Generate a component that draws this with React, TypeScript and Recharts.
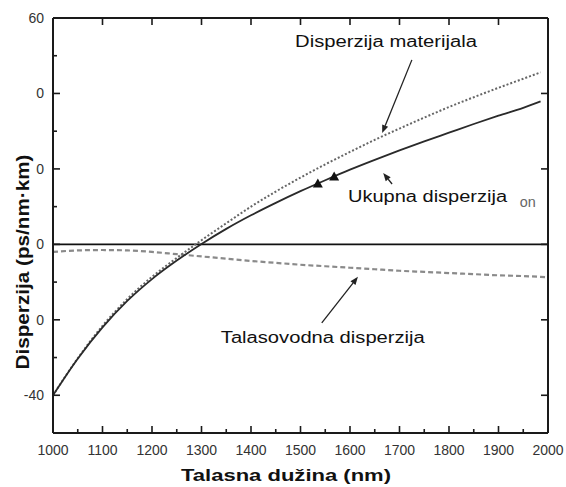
import React from 'react';
import {
  ComposedChart,
  Line,
  XAxis,
  YAxis,
  ReferenceLine,
  ReferenceDot,
  Scatter,
} from 'recharts';

// ---- data ----
const wavelengths = [1000, 1050, 1100, 1150, 1200, 1250, 1300, 1350, 1400, 1450, 1500, 1550, 1600, 1650, 1700, 1750, 1800, 1850, 1900, 1950, 1985, 2000];
const totalDispersion = [-40, -30.3, -22.0, -15.0, -9.2, -4.3, 0.1, 4.1, 7.7, 11.0, 14.1, 17.0, 19.8, 22.4, 24.9, 27.3, 29.6, 31.9, 34.1, 36.2, 37.9, null];
const materialDispersion = [-40, -30.2, -21.6, -14.5, -8.6, -3.6, 1.1, 5.6, 10.0, 14.0, 17.7, 21.2, 24.5, 27.7, 30.7, 33.6, 36.4, 39.0, 41.5, 43.9, 45.6, null];
const waveguideDispersion = [-2.0, -1.6, -1.5, -1.6, -2.0, -2.6, -3.2, -3.8, -4.4, -4.9, -5.4, -5.8, -6.2, -6.6, -7.0, -7.3, -7.6, -7.9, -8.2, -8.4, -8.6, -8.7];

const markerWavelengths = [1535, 1568];
const markerDispersion = [16.1, 18.0];

const xMajorTicks = [1000, 1100, 1200, 1300, 1400, 1500, 1600, 1700, 1800, 1900, 2000];
const xMinorTicks = [1050, 1150, 1250, 1350, 1450, 1550, 1650, 1750, 1850, 1950];
const yMajorTicks = [-40, -20, 0, 20, 40, 60];
const yTickLabels = ['-40', '0', '0', '0', '0', '60'];
const yMinorTicks = [-30, -10, 10, 30, 50];

const annotationTexts = ['Disperzija materijala', 'Ukupna disperzija', 'on', 'Talasovodna disperzija'];
const annotationX = [1489, 1596, 1943, 1339];
const annotationY = [52.3, 11.2, 9.9, -26.1];

const arrowFromX = [1725, 1685, 1543];
const arrowFromY = [48.9, 16.0, -20.8];
const arrowToX = [1665, 1667, 1616];
const arrowToY = [29.5, 18.9, -8.6];

const xTitle = 'Talasna dužina (nm)';
const yTitle = 'Disperzija (ps/nm·km)';

// ---- styles ----
const W = 566;
const H = 487;
const FONT = '"Liberation Sans", Arial, Helvetica, sans-serif';
const annotationStyle = [
  { len: 182, fill: '#111', size: 16 },
  { len: 159, fill: '#111', size: 16 },
  { len: 16, fill: '#666', size: 15 },
  { len: 204, fill: '#111', size: 16 },
];

const arrowShape = (p: any) => {
  const x1 = Number(p.x1), y1 = Number(p.y1), x2 = Number(p.x2), y2 = Number(p.y2);
  const dx = x2 - x1, dy = y2 - y1;
  const len = Math.hypot(dx, dy) || 1;
  const ux = dx / len, uy = dy / len;
  const hl = 8, hw = 3.2;
  const bx = x2 - ux * hl, by = y2 - uy * hl;
  return (
    <g>
      <line x1={x1} y1={y1} x2={bx} y2={by} stroke="#222" strokeWidth={1.3} />
      <polygon
        points={`${x2},${y2} ${bx - uy * hw},${by + ux * hw} ${bx + uy * hw},${by - ux * hw}`}
        fill="#222"
      />
    </g>
  );
};

const triangleShape = (p: any) => {
  const { cx, cy } = p;
  return <polygon points={`${cx},${cy - 5} ${cx + 5},${cy + 4} ${cx - 5},${cy + 4}`} fill="#111" />;
};

export default function App() {
  const data = wavelengths.map((w, i) => ({
    w,
    total: totalDispersion[i],
    material: materialDispersion[i],
    waveguide: waveguideDispersion[i],
  }));
  const markers = markerWavelengths.map((w, i) => ({ w, d: markerDispersion[i] }));
  const yLabel = (v: number) => {
    const i = yMajorTicks.indexOf(v);
    return i >= 0 ? yTickLabels[i] : '';
  };
  const axisLine = { stroke: '#1a1a1a', strokeWidth: 2 };
  const tickLine = { stroke: '#1a1a1a', strokeWidth: 1.6 };
  const tickText = { fontSize: 14, fill: '#333', fontFamily: FONT };

  return (
    <div style={{ position: 'absolute', left: 0, top: 0, width: W, height: H, background: '#fff', fontFamily: FONT }}>
      <ComposedChart width={W} height={H} data={data} margin={{ top: 17, right: 17, bottom: 52, left: 51 }}>
        <XAxis xAxisId="b" dataKey="w" type="number" domain={[1000, 2000]} ticks={xMajorTicks} interval={0}
          orientation="bottom" height={1} tickSize={-7} tickMargin={19} axisLine={axisLine} tickLine={tickLine}
          tick={tickText} allowDataOverflow />
        <XAxis xAxisId="bm" dataKey="w" type="number" domain={[1000, 2000]} ticks={xMinorTicks} interval={0}
          orientation="bottom" height={1} tickSize={-5} axisLine={false} tickLine={tickLine}
          tickFormatter={() => ''} allowDataOverflow />
        <XAxis xAxisId="t" dataKey="w" type="number" domain={[1000, 2000]} ticks={xMajorTicks} interval={0}
          orientation="top" height={1} tickSize={-7} axisLine={axisLine} tickLine={tickLine}
          tickFormatter={() => ''} allowDataOverflow />
        <YAxis yAxisId="l" type="number" domain={[-50, 60]} ticks={yMajorTicks} interval={0}
          orientation="left" width={1} tickSize={-7} tickMargin={16} axisLine={axisLine} tickLine={tickLine}
          tick={tickText} tickFormatter={yLabel} allowDataOverflow />
        <YAxis yAxisId="lm" type="number" domain={[-50, 60]} ticks={yMinorTicks} interval={0}
          orientation="left" width={1} tickSize={-5} axisLine={false} tickLine={tickLine}
          tickFormatter={() => ''} allowDataOverflow />
        <YAxis yAxisId="r" type="number" domain={[-50, 60]} ticks={yMajorTicks} interval={0}
          orientation="right" width={1} tickSize={-7} axisLine={axisLine} tickLine={tickLine}
          tickFormatter={() => ''} allowDataOverflow />

        <ReferenceLine xAxisId="b" yAxisId="l" y={0} stroke="#111" strokeWidth={1.8} />

        <Line xAxisId="b" yAxisId="l" type="monotone" dataKey="waveguide" stroke="#8a8a8a" strokeWidth={2.2}
          strokeDasharray="5 3" dot={false} isAnimationActive={false} />
        <Line xAxisId="b" yAxisId="l" type="monotone" dataKey="material" stroke="#666" strokeWidth={2}
          strokeDasharray="2 2" dot={false} isAnimationActive={false} />
        <Line xAxisId="b" yAxisId="l" type="monotone" dataKey="total" stroke="#2a2a2a" strokeWidth={1.8}
          dot={false} isAnimationActive={false} />

        <Scatter xAxisId="b" yAxisId="l" data={markers} dataKey="d" shape={triangleShape} isAnimationActive={false} />

        {arrowFromX.map((x, i) => (
          <ReferenceLine key={'a' + i} xAxisId="b" yAxisId="l"
            segment={[{ x, y: arrowFromY[i] }, { x: arrowToX[i], y: arrowToY[i] }]}
            shape={arrowShape} />
        ))}

        {annotationTexts.map((t, i) => (
          <ReferenceDot key={'t' + i} xAxisId="b" yAxisId="l" x={annotationX[i]} y={annotationY[i]}
            shape={(p: any) => (
              <text x={p.cx} y={p.cy} fontSize={annotationStyle[i].size} fill={annotationStyle[i].fill}
                fontFamily={FONT} textLength={annotationStyle[i].len} lengthAdjust="spacingAndGlyphs">
                {t}
              </text>
            )} />
        ))}
      </ComposedChart>
      <svg width={W} height={H} style={{ position: 'absolute', left: 0, top: 0, pointerEvents: 'none' }}>
        <text x={286} y={481} textAnchor="middle" fontSize={17} fontWeight="bold" fill="#111" fontFamily={FONT}
          textLength={210} lengthAdjust="spacingAndGlyphs">{xTitle}</text>
        <text x={29} y={262} textAnchor="middle" fontSize={18} fontWeight="bold" fill="#111" fontFamily={FONT}
          transform="rotate(-90 29 262)" textLength={215} lengthAdjust="spacingAndGlyphs">{yTitle}</text>
      </svg>
    </div>
  );
}
